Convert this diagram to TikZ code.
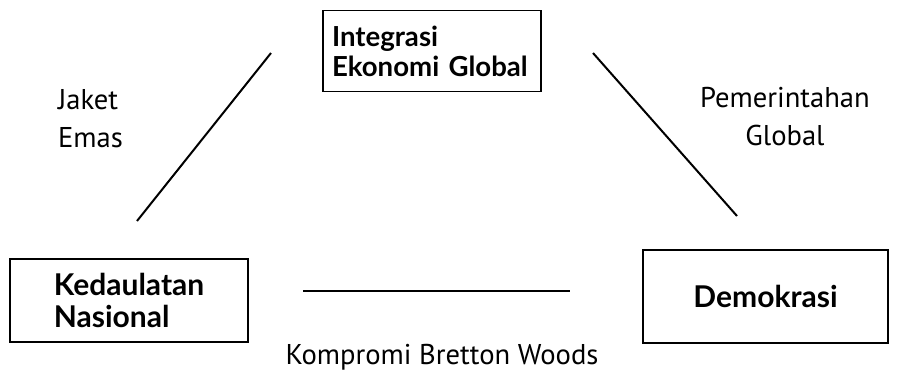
\documentclass[tikz,border=0pt]{standalone}
\usepackage{fontspec}
\setmainfont{PT Sans}
\newfontfamily\boxfont{Lato}
\usetikzlibrary{positioning}

\begin{document}
\begin{tikzpicture}[x=0.5pt, y=-0.5pt]
    % styles
    \tikzstyle{pillar} = [rectangle, draw=black, line width=0.8pt, align=left, font=\boxfont\bfseries\fontsize{15}{16}\selectfont]
    \tikzstyle{edge} = [line width=1pt, draw=black]
    \tikzstyle{caption} = [font=\fontsize{14.3}{19}\selectfont]

    \useasboundingbox (0,0) rectangle (898,381);

    % the three corners of the trilemma
    \node (integ) [pillar, minimum width=109pt, minimum height=40.5pt, text width=100pt, font=\boxfont\bfseries\fontsize{13.8}{15}\selectfont] at (432,51) {Integrasi\\Ekonomi Global};
    \node (sovereign) [pillar, minimum width=119pt, minimum height=41.5pt] at (129,300.5) {Kedaulatan\\Nasional};
    \node (demo) [pillar, minimum width=122.5pt, minimum height=46.5pt] at (765.5,296.5) {Demokrasi};

    % sides
    \coordinate (gold1) at (271,53);
    \coordinate (gold2) at (137,221);
    \coordinate (gov1) at (593,53);
    \coordinate (gov2) at (737,216);
    \coordinate (bw1) at (303,291);
    \coordinate (bw2) at (570,291);
    \draw [edge] (gold1) -- (gold2);
    \draw [edge] (gov1) -- (gov2);
    \draw [edge] (bw1) -- (bw2);

    % names of the sides
    \node (gold) [caption, align=left, anchor=west] at (51,119) {Jaket\\Emas};
    \node (gov) [caption, align=center] at (785,117) {Pemerintahan\\Global};
    \node (bw) [caption] at (442,357) {Kompromi Bretton Woods};
\end{tikzpicture}
\end{document}
